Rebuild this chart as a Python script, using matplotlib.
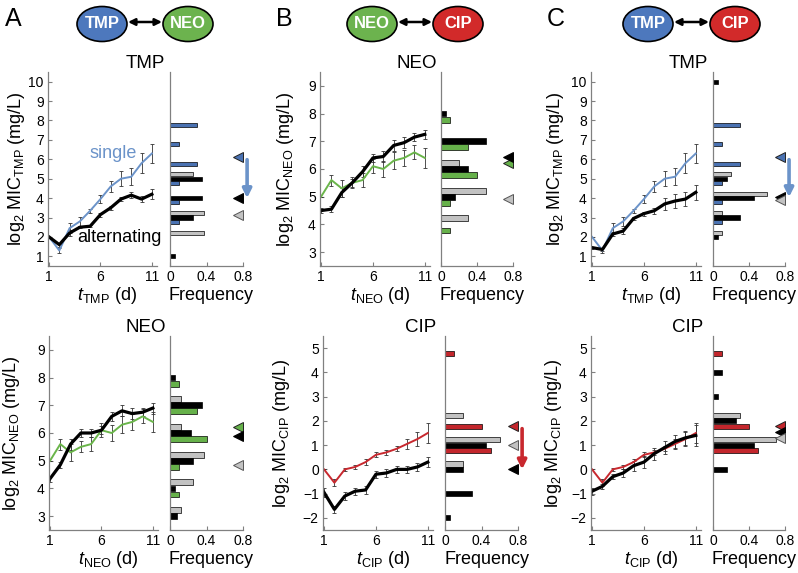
import matplotlib
matplotlib.use("Agg")
import matplotlib.pyplot as plt
from matplotlib.patches import Ellipse
import numpy as np

plt.rcParams['font.family'] = ['Liberation Sans', 'DejaVu Sans']
plt.rcParams['mathtext.fontset'] = 'custom'
plt.rcParams['mathtext.rm'] = 'Liberation Sans'
plt.rcParams['mathtext.it'] = 'Liberation Sans:italic'

W, H = 798, 573

# ==========================================
# DATA
# ==========================================
days = [1, 2, 3, 4, 5, 6, 7, 8, 9, 10, 11]

# single-drug evolution (same curves in both pairings)
tmp_single = [2.0, 1.3, 2.45, 2.8, 3.35, 3.95, 4.6, 5.0, 5.1, 5.8, 6.3]
tmp_single_err = [0.0, 0.15, 0.25, 0.25, 0.1, 0.2, 0.3, 0.4, 0.45, 0.5, 0.5]
neo_single = [5.0, 5.6, 5.3, 5.5, 5.6, 6.1, 6.0, 6.3, 6.4, 6.6, 6.4]
neo_single_err = [0.0, 0.2, 0.3, 0.2, 0.25, 0.25, 0.3, 0.3, 0.3, 0.25, 0.35]
cip_single = [0.0, -0.55, 0.0, 0.1, 0.3, 0.6, 0.7, 0.85, 1.05, 1.25, 1.5]
cip_single_err = [0.0, 0.15, 0.05, 0.1, 0.12, 0.1, 0.1, 0.1, 0.2, 0.3, 0.4]

# alternating treatment
a_tmp_alt = [2.0, 1.6, 2.2, 2.5, 2.55, 3.15, 3.5, 3.95, 4.15, 3.95, 4.2]
a_tmp_alt_err = [0.0, 0.1, 0.15, 0.05, 0.05, 0.1, 0.1, 0.1, 0.15, 0.15, 0.25]
a_neo_alt = [4.35, 4.85, 5.6, 6.0, 6.0, 6.1, 6.6, 6.8, 6.7, 6.75, 6.9]
a_neo_alt_err = [0.1, 0.1, 0.2, 0.15, 0.15, 0.15, 0.15, 0.2, 0.2, 0.15, 0.2]
b_neo_alt = [4.5, 4.55, 5.15, 5.5, 5.9, 6.4, 6.45, 6.85, 6.95, 7.15, 7.25]
b_neo_alt_err = [0.1, 0.1, 0.15, 0.15, 0.2, 0.15, 0.2, 0.2, 0.2, 0.15, 0.15]
b_cip_alt = [-0.95, -1.65, -1.1, -0.9, -0.85, -0.2, -0.15, 0.0, 0.0, 0.1, 0.3]
b_cip_alt_err = [0.2, 0.15, 0.15, 0.15, 0.15, 0.15, 0.15, 0.15, 0.15, 0.15, 0.2]
c_tmp_alt = [1.45, 1.35, 2.15, 2.3, 2.95, 3.2, 3.35, 3.7, 3.85, 3.95, 4.3]
c_tmp_alt_err = [0.05, 0.1, 0.1, 0.15, 0.1, 0.1, 0.15, 0.3, 0.35, 0.35, 0.4]
c_cip_alt = [-0.9, -0.7, -0.3, -0.15, 0.15, 0.3, 0.65, 0.9, 1.15, 1.3, 1.4]
c_cip_alt_err = [0.15, 0.1, 0.1, 0.15, 0.2, 0.25, 0.25, 0.25, 0.25, 0.3, 0.45]

# histogram levels (log2 MIC)
tmp_levels = [1, 2, 3, 4, 5, 6, 7, 8, 9, 10]
neo_levels = [3, 4, 5, 6, 7, 8, 9]
cip_levels = [-2, -1, 0, 1, 2, 3, 4, 5]

# final-day frequencies: single / alternating / gray
tmp_hist_single = [0, 0, 0.1, 0.1, 0.1, 0.3, 0.1, 0.3, 0, 0]
a_tmp_hist_alt = [0.05, 0, 0.25, 0.35, 0.35, 0, 0, 0, 0, 0]
a_tmp_hist_gray = [0, 0.375, 0.375, 0, 0.25, 0, 0, 0, 0, 0]
c_tmp_hist_alt = [0, 0.05, 0.3, 0.45, 0.15, 0, 0, 0, 0, 0.05]
c_tmp_hist_gray = [0, 0.1, 0.1, 0.6, 0.2, 0, 0, 0, 0, 0]

neo_hist_single = [0, 0.1, 0.1, 0.4, 0.3, 0.1, 0]
a_neo_hist_alt = [0.075, 0.05, 0.25, 0.225, 0.35, 0.05, 0]
a_neo_hist_gray = [0.125, 0.25, 0.375, 0.125, 0.125, 0, 0]
b_neo_hist_alt = [0, 0, 0.15, 0.3, 0.5, 0.05, 0]
b_neo_hist_gray = [0, 0.3, 0.5, 0.2, 0, 0, 0]

cip_hist_single = [0, 0, 0, 0.5, 0.4, 0, 0, 0.1]
b_cip_hist_alt = [0.05, 0.3, 0.2, 0.45, 0, 0, 0, 0]
b_cip_hist_gray = [0, 0, 0.2, 0.6, 0.2, 0, 0, 0]
c_cip_hist_alt = [0, 0, 0.15, 0.45, 0.25, 0.05, 0.1, 0]
c_cip_hist_gray = [0, 0, 0, 0.7, 0.3, 0, 0, 0]

# mean markers (single, alternating, gray)
a_tmp_means = [6.1, 4.0, 3.15]
b_neo_means = [6.2, 6.45, 4.9]
c_tmp_means = [6.1, 4.05, 3.92]
a_neo_means = [6.2, 5.9, 4.85]
b_cip_means = [1.8, 0.0, 1.0]
c_cip_means = [1.8, 1.55, 1.3]

# colours
BLUE, BLUE_LINE = "#4a72b2", "#6b93c9"
GREEN, GREEN_LINE = "#66b14a", "#6ab54a"
RED, RED_LINE = "#c3262c", "#c8282e"
GRAY = "#c2c2c2"
SPINE = "#808080"

fig = plt.figure(figsize=(W / 100, H / 100), dpi=100)


def px_axes(x0, x1, y0, y1):
    return fig.add_axes([x0 / W, 1 - y1 / H, (x1 - x0) / W, (y1 - y0) / H])


def style(ax):
    for s in ["top", "right"]:
        ax.spines[s].set_visible(False)
    for s in ["left", "bottom"]:
        ax.spines[s].set_color(SPINE)
        ax.spines[s].set_linewidth(0.9)
    ax.tick_params(direction="in", length=3, width=0.8, color=SPINE,
                   labelsize=10, pad=3)


def draw_panel(box_l, box_h, ylab_x, drug, single, single_err, alt, alt_err,
               col, col_line, levels, f_single, f_alt, f_gray, means, arrow,
               ylim, yticks):
    ax = px_axes(*box_l)
    style(ax)
    ax.errorbar(days, single, yerr=single_err, color=col_line, lw=1.4,
                ecolor="#333333", elinewidth=0.6, capsize=1.5, capthick=0.6)
    ax.errorbar(days, alt, yerr=alt_err, color="black", lw=2.3,
                ecolor="#333333", elinewidth=0.6, capsize=1.5, capthick=0.6)
    ax.set_xlim(0.9, 11.5)
    ax.set_ylim(*ylim)
    ax.set_xticks([1, 6, 11])
    ax.set_yticks(yticks)

    hx = px_axes(*box_h)
    style(hx)
    hx.tick_params(axis="y", left=False, labelleft=False)
    lv = np.array(levels, dtype=float)
    for f, off, c in [(f_gray, 0.22, GRAY), (f_alt, 0.0, "black"),
                      (f_single, -0.22, col)]:
        f = np.array(f, dtype=float)
        m = f > 0
        hx.barh(lv[m] + off, f[m], height=0.21, color=c, edgecolor="black",
                linewidth=0.5)
    hx.set_xlim(0, 0.8)
    hx.set_ylim(*ylim)
    hx.set_xticks([0, 0.4, 0.8])
    hx.set_xticklabels(["0", "0.4", "0.8"])

    s_m, a_m, g_m = means
    hx.plot(0.74, s_m, marker="<", ms=7.5, mfc=col, mec="#222222", mew=0.7,
            clip_on=False, zorder=5)
    hx.plot(0.74, a_m, marker="<", ms=7.5, mfc="black", mec="black", mew=0.7,
            clip_on=False, zorder=5)
    hx.plot(0.74, g_m, marker="<", ms=7.5, mfc=GRAY, mec="#555555", mew=0.7,
            clip_on=False, zorder=6)
    if arrow:
        hx.annotate("", xy=(0.845, a_m), xytext=(0.845, s_m - 0.12),
                    arrowprops=dict(arrowstyle="-|>", color=col_line, lw=2.6,
                                    mutation_scale=13, shrinkA=0, shrinkB=0),
                    annotation_clip=False)

    # labels placed in pixel space
    x0, x1, y0, y1 = box_l
    hx0, hx1 = box_h[0], box_h[1]
    fig.text(ylab_x / W, 1 - (y0 + y1) / 2 / H,
             r"log$_2$ MIC$_{\mathrm{%s}}$ (mg/L)" % drug, rotation=90,
             ha="center", va="center", fontsize=13)
    ylab = y1 + 30
    fig.text(((x0 + x1) / 2 + 5) / W, 1 - ylab / H,
             r"$t_{\mathrm{%s}}$ (d)" % drug, ha="center", va="center",
             fontsize=13)
    fig.text(((hx0 + hx1) / 2 + 5) / W, 1 - ylab / H, "Frequency",
             ha="center", va="center", fontsize=13)
    fig.text(((x0 + hx1) / 2) / W, 1 - (y0 - 9) / H, drug,
             ha="center", va="center", fontsize=13.5)
    return ax


TOP = (72, 266)
BOT = (336, 530)

ax_a = draw_panel((48, 157) + TOP, (170, 243) + TOP, 17, "TMP",
                  tmp_single, tmp_single_err, a_tmp_alt, a_tmp_alt_err,
                  BLUE, BLUE_LINE, tmp_levels, tmp_hist_single,
                  a_tmp_hist_alt, a_tmp_hist_gray, a_tmp_means, True,
                  (0.5, 10.5), range(1, 11))
ax_a.text(4.9, 6.3, "single", color=BLUE_LINE, fontsize=13, va="center")
ax_a.text(3.7, 1.95, "alternating", color="black", fontsize=13, va="center")

draw_panel((320, 430) + TOP, (441, 513) + TOP, 286, "NEO",
           neo_single, neo_single_err, b_neo_alt, b_neo_alt_err,
           GREEN, GREEN_LINE, neo_levels, neo_hist_single,
           b_neo_hist_alt, b_neo_hist_gray, b_neo_means, False,
           (2.5, 9.5), range(3, 10))

draw_panel((591, 701) + TOP, (713, 785) + TOP, 555, "TMP",
           tmp_single, tmp_single_err, c_tmp_alt, c_tmp_alt_err,
           BLUE, BLUE_LINE, tmp_levels, tmp_hist_single,
           c_tmp_hist_alt, c_tmp_hist_gray, c_tmp_means, True,
           (0.5, 10.5), range(1, 11))

draw_panel((49, 158) + BOT, (170, 243) + BOT, 12, "NEO",
           neo_single, neo_single_err, a_neo_alt, a_neo_alt_err,
           GREEN, GREEN_LINE, neo_levels, neo_hist_single,
           a_neo_hist_alt, a_neo_hist_gray, a_neo_means, False,
           (2.5, 9.5), range(3, 10))

draw_panel((323, 433) + BOT, (445, 518) + BOT, 282, "CIP",
           cip_single, cip_single_err, b_cip_alt, b_cip_alt_err,
           RED, RED_LINE, cip_levels, cip_hist_single,
           b_cip_hist_alt, b_cip_hist_gray, b_cip_means, True,
           (-2.5, 5.5), range(-2, 6))

draw_panel((591, 701) + BOT, (713, 785) + BOT, 554, "CIP",
           cip_single, cip_single_err, c_cip_alt, c_cip_alt_err,
           RED, RED_LINE, cip_levels, cip_hist_single,
           c_cip_hist_alt, c_cip_hist_gray, c_cip_means, False,
           (-2.5, 5.5), range(-2, 6))

# ==========================================
# HEADER: panel letters and drug-pair bubbles
# ==========================================
ov = fig.add_axes([0, 0, 1, 1])
ov.set_xlim(0, W)
ov.set_ylim(H, 0)
ov.axis("off")

bubble_col = {"TMP": "#4d78bd", "NEO": "#6cb34e", "CIP": "#d22a2a"}
pairs = [("A", 5, 102, "TMP", 188, "NEO"),
         ("B", 276, 372, "NEO", 458, "CIP"),
         ("C", 547, 648, "TMP", 735, "CIP")]
for letter, lx, x1, d1, x2, d2 in pairs:
    ov.text(lx, 19, letter, fontsize=18, ha="left", va="center")
    for cx, d in [(x1, d1), (x2, d2)]:
        ov.add_patch(Ellipse((cx, 24), 50, 35, facecolor=bubble_col[d],
                             edgecolor="black", lw=1.2))
        ov.text(cx, 24, d, color="white", fontsize=12, fontweight="bold",
                ha="center", va="center")
    ov.annotate("", xy=(x2 - 26, 22), xytext=(x1 + 26, 22),
                arrowprops=dict(arrowstyle="<|-|>", color="black", lw=1.8,
                                mutation_scale=10, shrinkA=0, shrinkB=0))

fig.savefig("out.png", dpi=100)
